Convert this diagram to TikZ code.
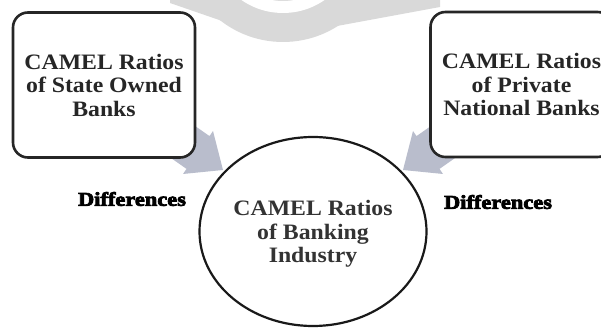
\documentclass[tikz,border=0pt]{standalone}
\usepackage{fontspec}
\setmainfont{Liberation Serif}
\newfontfamily\boxfont[FakeStretch=1.08]{Liberation Serif}
\newfontfamily\difffont[FakeStretch=1.15,BoldFeatures={FakeBold=4}]{Liberation Serif}
\usetikzlibrary{shapes.geometric}
\definecolor{wmgray}{HTML}{D9D9D9}
\definecolor{arrowgray}{HTML}{B9BDCC}
\tikzset{
  ratiobox/.style={draw=black!85, line width=2.6pt, rounded corners=15pt, fill=white,
    minimum width=182pt, minimum height=145pt, align=center, inner sep=0pt,
    font=\boxfont\bfseries\fontsize{22}{23.5}\selectfont, text=black!85},
  industry/.style={ellipse, draw=black!90, line width=2.2pt, fill=white,
    minimum width=227pt, minimum height=189pt, inner sep=0pt},
  industrytext/.style={align=center, inner sep=0pt,
    font=\boxfont\bfseries\fontsize{22}{23.5}\selectfont, text=black!80},
  difftext/.style={inner sep=0pt, font=\difffont\bfseries\fontsize{19.5}{21}\selectfont},
  blockarrow/.style={fill=arrowgray},
  watermark/.style={fill=wmgray}
}
\begin{document}
\begin{tikzpicture}[x=1pt,y=-1pt]
\useasboundingbox (0,0) rectangle (601,328);
\clip (0,0) rectangle (601,328);
% faint watermark
\fill[watermark] (283,-60) circle (102);
\fill[watermark] (170,0) -- (170,3) -- (225,22) -- (240,0) -- cycle;
\fill[watermark] (330,0) -- (337,26) -- (440,7) -- (440,0) -- cycle;
\fill[white,even odd rule] (283,-60) circle (73) (283,-60) circle (61);
% block arrows
\fill[blockarrow] (152.1,95.9) -- (209.5,136.1) -- (213,131) -- (223,170) -- (183,174) -- (186.5,168.9) -- (129.1,128.7) -- cycle;
\fill[blockarrow] (473.9,95.9) -- (416.5,136.1) -- (413,131) -- (403,170) -- (443,174) -- (439.5,168.9) -- (496.9,128.7) -- cycle;
% boxes
\node[ratiobox] (state) at (104,85) {CAMEL Ratios\\of State Owned\\Banks};
\node[ratiobox] (private) at (521.5,84.5) {CAMEL Ratios\\of Private\\National Banks};
% circle
\node[industry] (industry) at (313,231.5) {};
\node[industrytext] (industrylabel) at (313,234) {CAMEL Ratios\\of Banking\\Industry};
% labels
\node[difftext] (diffleft) at (132,199) {Differences};
\node[difftext] (diffright) at (498,202) {Differences};
\end{tikzpicture}
\end{document}
